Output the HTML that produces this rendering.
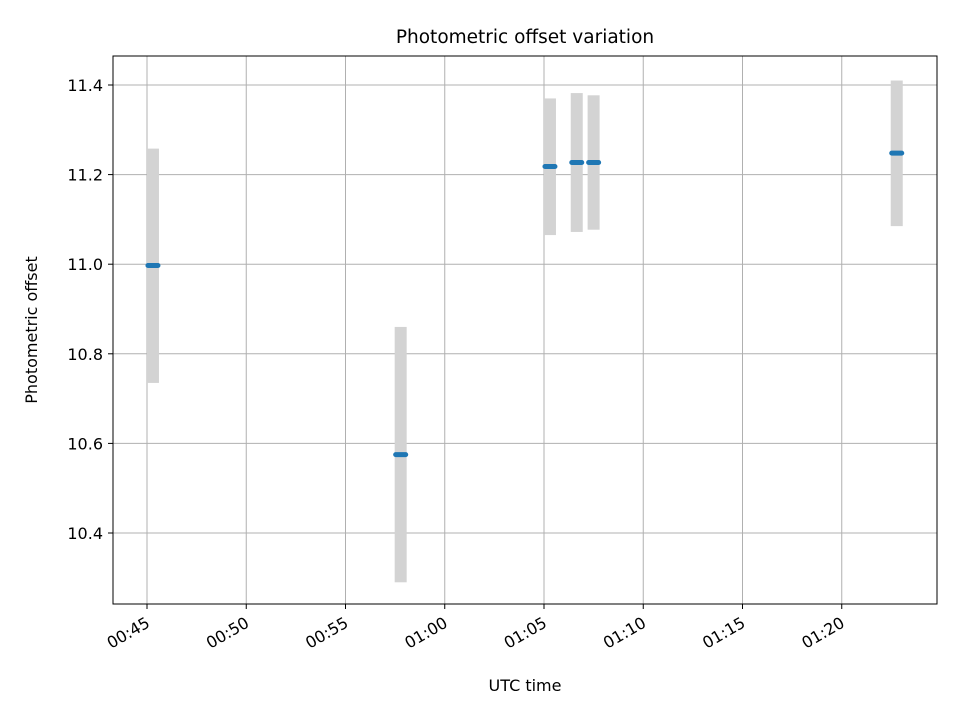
<!DOCTYPE html>
<html><head><meta charset="utf-8"><style>
html,body{margin:0;padding:0;background:#fff;}
svg text{font-family:"DejaVu Sans","Liberation Sans",sans-serif;fill:#000;}
</style></head><body>
<svg id="chart" width="960" height="720" xmlns="http://www.w3.org/2000/svg">
<rect width="960" height="720" fill="#fff"/>
<g id="grid"></g>
<g id="bars"></g>
<g id="marks"></g>
<rect x="113" y="56" width="824" height="548" fill="none" stroke="#000" stroke-width="1"/>
<g id="xt"></g>
<g id="yt"></g>
<text x="525" y="43" text-anchor="middle" style="font-size:18.5px">Photometric offset variation</text>
<text x="525" y="691" text-anchor="middle" style="font-size:16px">UTC time</text>
<text x="0" y="0" transform="translate(37,330) rotate(-90)" text-anchor="middle" style="font-size:16px">Photometric offset</text>
</svg>
<script>
// times in minutes after 00:00
const times = [45.3, 57.78, 65.3, 66.65, 67.5, 82.77];
const values = [10.997, 10.575, 11.218, 11.227, 11.227, 11.248];
const lowErr = [10.735, 10.29, 11.065, 11.072, 11.077, 11.085];
const highErr = [11.258, 10.86, 11.37, 11.382, 11.377, 11.41];
const xTickMinutes = [45, 50, 55, 60, 65, 70, 75, 80];
const xTickLabels = ["00:45","00:50","00:55","01:00","01:05","01:10","01:15","01:20"];
const yTicks = [10.4, 10.6, 10.8, 11.0, 11.2, 11.4];
const yTickLabels = ["10.4","10.6","10.8","11.0","11.2","11.4"];

const NS = "http://www.w3.org/2000/svg";
function xs(m){ return 147 + (m - 45) * 19.85; }
function ys(v){ return 533 - (v - 10.4) * 448; }
function mk(tag, attrs, parent){
  const e = document.createElementNS(NS, tag);
  for (const k in attrs) e.setAttribute(k, attrs[k]);
  parent.appendChild(e);
  return e;
}
const grid = document.getElementById('grid');
const xt = document.getElementById('xt');
const yt = document.getElementById('yt');
const bars = document.getElementById('bars');
const marks = document.getElementById('marks');

xTickMinutes.forEach((m, i) => {
  const x = xs(m);
  const g = mk('line', {x1:x, x2:x, y1:56, y2:604, stroke:'#b0b0b0', 'stroke-width':1}, grid);
  
  
  const t = mk('line', {x1:x, x2:x, y1:604, y2:609, stroke:'#000', 'stroke-width':1}, xt);
  
  
  const l = mk('text', {x:0, y:0, style:'font-size:16px', 'text-anchor':'end', transform:`translate(${x+4},${626}) rotate(-30)`}, xt);
  l.textContent = xTickLabels[i];
  
  
});
yTicks.forEach((v, i) => {
  const y = ys(v);
  const g = mk('line', {x1:113, x2:937, y1:y, y2:y, stroke:'#b0b0b0', 'stroke-width':1}, grid);
  
  
  const t = mk('line', {x1:108, x2:113, y1:y, y2:y, stroke:'#000', 'stroke-width':1}, yt);
  
  
  const l = mk('text', {x:103, y:y+6, style:'font-size:16px', 'text-anchor':'end'}, yt);
  l.textContent = yTickLabels[i];
  
  
});
times.forEach((m, i) => {
  const x = xs(m);
  const b = mk('rect', {x:x-6, y:ys(highErr[i]), width:12, height:ys(lowErr[i]) - ys(highErr[i]), fill:'#d3d3d3'}, bars);
  
  
  const p = mk('line', {x1:x-5, x2:x+5, y1:ys(values[i]), y2:ys(values[i]), stroke:'#1f77b4', 'stroke-width':5, 'stroke-linecap':'round'}, marks);
  
  
});
</script>
</body></html>
